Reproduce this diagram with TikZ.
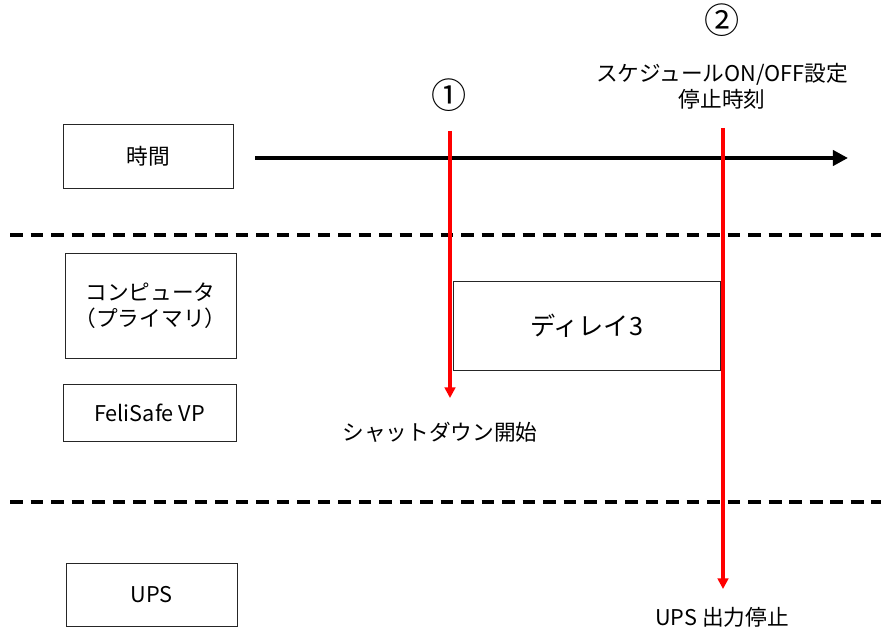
\documentclass[tikz,border=0pt]{standalone}
\usepackage{fontspec}
\setmainfont{Noto Sans CJK JP}
\usepackage{xcolor}
\usepackage{tikz}
\usetikzlibrary{arrows.meta}
\usetikzlibrary{positioning}

\tikzset{
  lanebox/.style={draw=black!85, line width=0.8pt, inner sep=0pt, align=center},
  lbl/.style={inner sep=0pt, align=center},
  num/.style={inner sep=0pt, font=\fontsize{30}{32}\selectfont},
  sep/.style={line width=2.6pt, dash pattern=on 11pt off 6.5pt},
  cue/.style={red, line width=2.8pt, -{Triangle[length=9pt, width=9pt]}},
}

\begin{document}
\begin{tikzpicture}[x=0.03cm, y=-0.03cm, font=\fontsize{18.5}{22}\selectfont]
      \useasboundingbox (0, 0) rectangle (881, 627);

      % left column
      \node[lanebox, minimum width=5.1cm, minimum height=1.92cm] (time) at (148, 156) {時間};
      \node[lanebox, minimum width=5.13cm, minimum height=3.15cm] (pc) at (150.5, 305.5) {コンピュータ\\（プライマリ）};
      \node[lanebox, minimum width=5.19cm, minimum height=1.71cm] (vp) at (149.5, 412.5) {FeliSafe VP};
      \node[lanebox, minimum width=5.13cm, minimum height=1.89cm] (ups) at (151.5, 594.5) {UPS};

      % lane borders
      \draw[sep] (10, 235) -- (881, 235);
      \draw[sep] (10, 502) -- (881, 502);

      % time axis
      \coordinate (t0) at (255, 158);
      \coordinate (t1) at (848, 158);
      \draw[line width=3.6pt, -{Triangle[length=13pt, width=13pt]}] (t0) -- (t1);

      % delay
      \node[lanebox, minimum width=8.01cm, minimum height=2.67cm, font=\fontsize{21.5}{24}\selectfont] (delay) at (586.5, 325.5) {ディレイ3};

      % event 1
      \node[num] (n1) at (449, 95) {①};
      \coordinate (s1) at (450, 131);
      \coordinate (e1) at (450, 398);
      \draw[cue] (s1) -- (e1);
      \node[lbl] (shut) at (440, 432) {シャットダウン開始};

      % event 2
      \node[num] (n2) at (722, 20) {②};
      \node[lbl] (sched) at (722, 86) {スケジュールON/OFF設定\\停止時刻};
      \coordinate (s2) at (723, 128);
      \coordinate (e2) at (723, 589);
      \draw[cue] (s2) -- (e2);
      \node[lbl] (stop) at (722, 617) {UPS 出力停止};

    \end{tikzpicture}
\end{document}
